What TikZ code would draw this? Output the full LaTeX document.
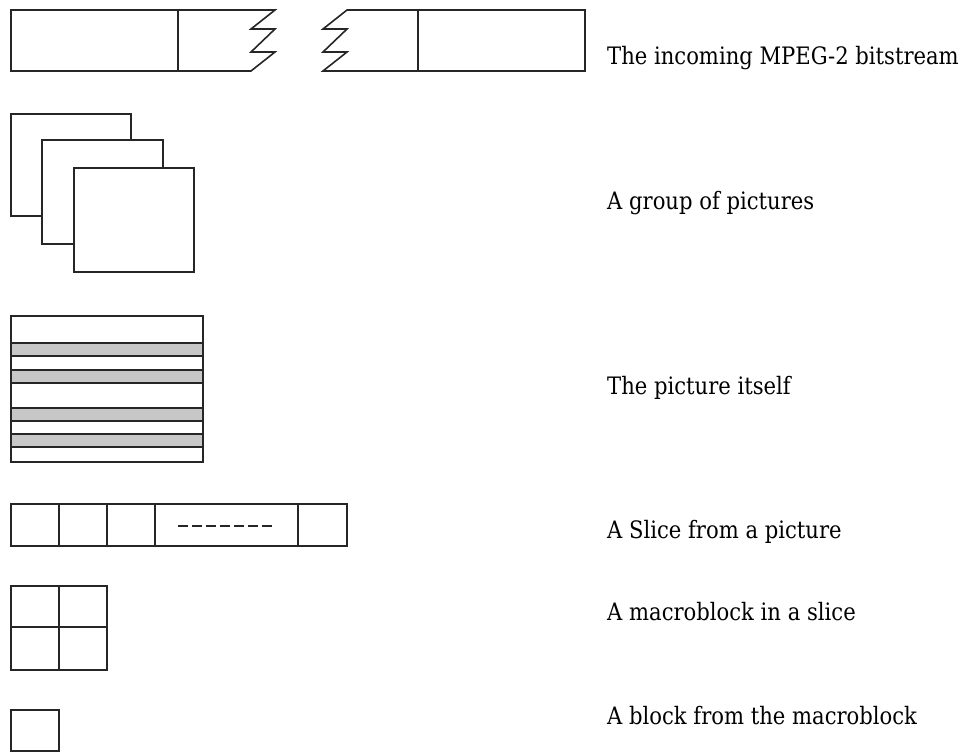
\documentclass[tikz,border=0pt]{standalone}
\usepackage{fontspec}
\setmainfont{DejaVu Serif}[FakeStretch=0.88]
\begin{document}
\begin{tikzpicture}[x=1pt,y=-1pt,
  box/.style={draw=black!85,line width=1.6pt,fill=white,line join=miter},
  ln/.style={draw=black!85,line width=1.6pt},
  band/.style={draw=black!85,line width=1.6pt,fill=black!22},
  lbl/.style={anchor=base west,inner sep=0pt,font=\fontsize{24}{28}\selectfont}]
\useasboundingbox (0,0) rectangle (965,752);
% bitstream
\draw[box] (11,10) -- (275,10) -- (251,29) -- (275,29) -- (251,52) -- (275,52) -- (251,71) -- (11,71) -- cycle;
\draw[box] (347,10) -- (585,10) -- (585,71) -- (323,71) -- (347,52) -- (323,52) -- (347,29) -- (323,29) -- cycle;
\draw[ln] (178,10) -- (178,71);
\draw[ln] (418,10) -- (418,71);
% group of pictures
\draw[box] (11,114) rectangle (131,216);
\draw[box] (42,140) rectangle (163,244);
\draw[box] (74,168) rectangle (194,272);
% picture
\draw[box] (11,316) rectangle (203,462);
\draw[band] (11,343) rectangle (203,356);
\draw[band] (11,370) rectangle (203,383);
\draw[band] (11,408) rectangle (203,421);
\draw[band] (11,434) rectangle (203,447);
% slice
\draw[box] (11,504) rectangle (347,546);
\foreach \xx in {59,107,155,298} \draw[ln] (\xx,504) -- (\xx,546);
\draw[ln,dash pattern=on 10pt off 4pt] (178,526) -- (272,526);
% macroblock
\draw[box] (11,586) rectangle (107,670);
\draw[ln] (59,586) -- (59,670);
\draw[ln] (11,627) -- (107,627);
% block
\draw[box] (11,710) rectangle (59,751);
% labels
\node[lbl] (t1) at (607,64) {The incoming MPEG-2 bitstream};
\node[lbl] (t2) at (607,209) {A group of pictures};
\node[lbl] (t3) at (607,394) {The picture itself};
\node[lbl] (t4) at (607,538) {A Slice from a picture};
\node[lbl] (t5) at (607,620) {A macroblock in a slice};
\node[lbl] (t6) at (607,724) {A block from the macroblock};
\end{tikzpicture}
\end{document}
